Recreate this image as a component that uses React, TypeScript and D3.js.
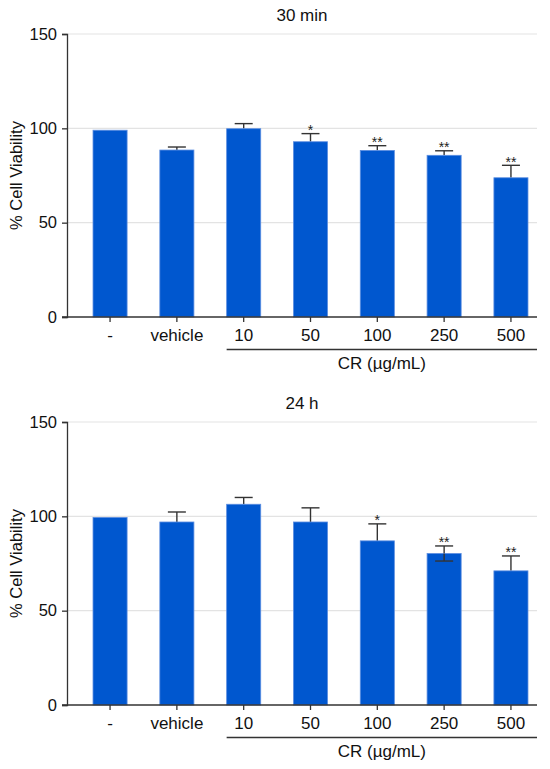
import { useEffect, useRef } from "react"
import * as d3 from "d3"

// groups on the x axis
const categories = ["-", "vehicle", "10", "50", "100", "250", "500"]
const yTicks = [0, 50, 100, 150]
const gridTicks = [50, 100, 150]

// 30 min panel
const means30 = [99, 88.5, 99.8, 92.9, 88.3, 85.7, 73.8]
const errs30 = [0, 1.6, 2.7, 4.3, 2.5, 2.4, 6.6]
const stars30 = ["", "", "", "*", "**", "**", "**"]
const lower30 = [false, false, false, false, false, false, false]

// 24 h panel
const means24 = [99.4, 97.0, 106.4, 97.0, 87.0, 80.3, 71.1]
const errs24 = [0, 5.3, 3.6, 7.5, 9.0, 4.0, 7.9]
const stars24 = ["", "", "", "", "*", "**", "**"]
const lower24 = [false, false, false, false, false, true, false]

const panelTitles = ["30 min", "24 h"]

interface Panel {
  title: string
  means: number[]
  errs: number[]
  stars: string[]
  lower: boolean[]
}

const panels: Panel[] = [
  { title: panelTitles[0], means: means30, errs: errs30, stars: stars30, lower: lower30 },
  { title: panelTitles[1], means: means24, errs: errs24, stars: stars24, lower: lower24 },
]

const WIDTH = 550
const HEIGHT = 769
const FONT = "'Liberation Sans', Arial, sans-serif"
const BLUE = "#0057cf"
const INK = "#333"

export default function App() {
  const svgRef = useRef<SVGSVGElement>(null)

  useEffect(() => {
    if (!svgRef.current) return
    const svg = d3.select(svgRef.current)
    svg.selectAll("*").remove()

    const left = 67
    const right = 537
    const panelTop = 34
    const panelBottom = 317
    const panelOffset = 388

    const x = d3.scaleBand<string>()
      .domain(categories)
      .range([84, right])
      .paddingInner(0.49)
      .paddingOuter(0.135)

    const y = d3.scaleLinear().domain([0, 150]).range([panelBottom, panelTop])

    panels.forEach((p, pi) => {
      const g = svg.append("g").attr("transform", `translate(0,${pi * panelOffset})`)

      // title
      g.append("text")
        .attr("x", (left + right) / 2)
        .attr("y", 20.5)
        .attr("text-anchor", "middle")
        .attr("font-size", 17)
        .attr("fill", "#111")
        .text(p.title)

      // grid
      g.selectAll("line.grid")
        .data(gridTicks)
        .enter()
        .append("line")
        .attr("class", "grid")
        .attr("x1", left)
        .attr("x2", right)
        .attr("y1", (d) => y(d))
        .attr("y2", (d) => y(d))
        .attr("stroke", "#e3e3e3")
        .attr("stroke-width", 1.2)

      // error bars (drawn before bars so only the upper half shows)
      const cap = 9
      const eb = g.append("g").attr("stroke", INK).attr("stroke-width", 1.4)
      categories.forEach((c, i) => {
        if (!p.errs[i]) return
        const cx = (x(c) as number) + x.bandwidth() / 2
        const top = y(p.means[i] + p.errs[i])
        const bar = y(p.means[i])
        eb.append("line").attr("x1", cx).attr("x2", cx).attr("y1", top).attr("y2", bar)
        eb.append("line").attr("x1", cx - cap).attr("x2", cx + cap).attr("y1", top).attr("y2", top)
      })

      // bars
      g.selectAll("rect.bar")
        .data(categories)
        .enter()
        .append("rect")
        .attr("class", "bar")
        .attr("x", (c) => x(c) as number)
        .attr("width", x.bandwidth())
        .attr("y", (_, i) => y(p.means[i]))
        .attr("height", (_, i) => panelBottom - y(p.means[i]))
        .attr("fill", BLUE)
        .attr("stroke", "#5c8ee0")
        .attr("stroke-width", 0.8)

      // lower error bars that show through
      const lb = g.append("g").attr("stroke", INK).attr("stroke-width", 1.4)
      categories.forEach((c, i) => {
        if (!p.lower[i]) return
        const cx = (x(c) as number) + x.bandwidth() / 2
        const bot = y(p.means[i] - p.errs[i])
        lb.append("line").attr("x1", cx).attr("x2", cx).attr("y1", y(p.means[i])).attr("y2", bot)
        lb.append("line").attr("x1", cx - cap).attr("x2", cx + cap).attr("y1", bot).attr("y2", bot)
      })

      // significance stars
      g.selectAll("text.star")
        .data(categories)
        .enter()
        .append("text")
        .attr("class", "star")
        .attr("x", (c) => (x(c) as number) + x.bandwidth() / 2)
        .attr("y", (_, i) => y(p.means[i] + p.errs[i]) + 1.5)
        .attr("text-anchor", "middle")
        .attr("font-size", 14)
        .attr("fill", "#222")
        .text((_, i) => p.stars[i])

      // y axis
      const yAxis = g.append("g")
        .attr("transform", `translate(${left},0)`)
        .call(d3.axisLeft(y).tickValues(yTicks).tickSize(5).tickPadding(5).tickFormat(d3.format("d")))
      yAxis.select(".domain").attr("stroke", INK).attr("stroke-width", 1.3)
      yAxis.selectAll(".tick line").attr("stroke", INK).attr("stroke-width", 1.3)
      yAxis.selectAll(".tick text")
        .attr("font-size", 16.5)
        .attr("font-family", FONT)
        .attr("fill", "#111")

      // x axis
      const xAxis = g.append("g")
        .attr("transform", `translate(0,${panelBottom})`)
        .call(d3.axisBottom(x).tickSize(5).tickPadding(7).tickSizeOuter(0))
      xAxis.select(".domain").attr("d", `M${left - 5},0H${right}`).attr("stroke", INK).attr("stroke-width", 1.3)
      xAxis.selectAll(".tick line").attr("stroke", INK).attr("stroke-width", 1.3)
      xAxis.selectAll(".tick text")
        .attr("font-size", 17)
        .attr("font-family", FONT)
        .attr("fill", "#111")

      // y label
      g.append("text")
        .attr("transform", `translate(22,${(panelTop + panelBottom) / 2}) rotate(-90)`)
        .attr("text-anchor", "middle")
        .attr("font-size", 16.5)
        .attr("fill", "#111")
        .text("% Cell Viability")

      // CR bracket under the dose groups
      const bx0 = x("10") as number
      g.append("line")
        .attr("x1", bx0)
        .attr("x2", right)
        .attr("y1", 349.5)
        .attr("y2", 349.5)
        .attr("stroke", INK)
        .attr("stroke-width", 1.3)
      g.append("text")
        .attr("x", (bx0 + right) / 2)
        .attr("y", 368.5)
        .attr("text-anchor", "middle")
        .attr("font-size", 17)
        .attr("fill", "#111")
        .text("CR (µg/mL)")
    })
  }, [])

  return (
    <svg
      ref={svgRef}
      width={WIDTH}
      height={HEIGHT}
      style={{ position: "absolute", left: 0, top: 0, background: "#fff", fontFamily: FONT }}
    />
  )
}
